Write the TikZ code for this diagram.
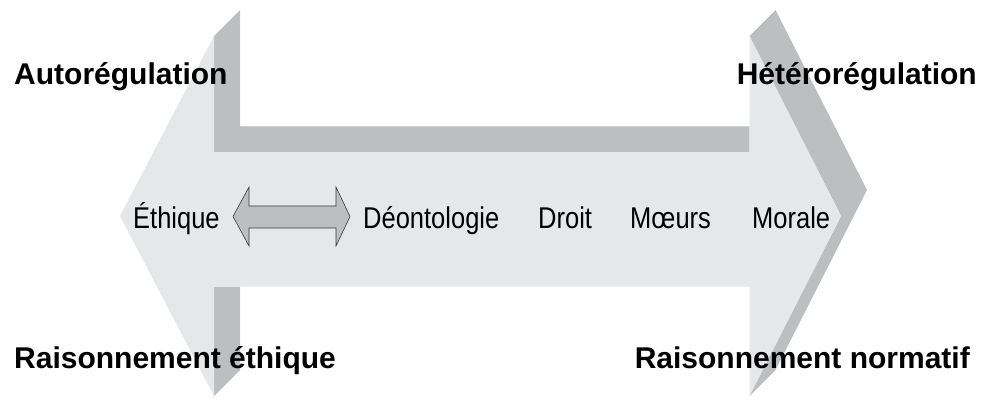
\documentclass[tikz,border=0pt]{standalone}
\usepackage{fontspec}
\setmainfont{Liberation Sans}
\newfontfamily\narrowfont[FakeStretch=0.85]{Liberation Sans}
\definecolor{facegray}{HTML}{E6E7E8}
\definecolor{sidegray}{HTML}{BCBEC0}
\definecolor{edgegray}{HTML}{3A3A3A}
\tikzset{
  frontface/.style={fill=facegray},
  sideface/.style={fill=sidegray},
  smallarrow/.style={fill=sidegray, draw=edgegray, line width=0.6pt, line join=miter},
  heading/.style={inner sep=0pt, text=black, font=\fontsize{30}{36}\selectfont\bfseries},
  term/.style={inner sep=0pt, text=black, font=\narrowfont\fontsize{30}{36}\selectfont},
}
\begin{document}
\begin{tikzpicture}[x=1pt, y=-1pt]
\useasboundingbox (0,0) rectangle (990,398);

% extruded sides of the big double arrow (seen behind the front face)
\fill[sideface] (214,36) -- (240,10) -- (240,126.5) -- (749.5,126.5)
  -- (749.5,152.5) -- (214,152.5) -- cycle;
\fill[sideface] (749.5,36) -- (775.5,10) -- (867,190) -- (775.5,370)
  -- (749.5,396) -- (841,216) -- cycle;
\fill[sideface] (214,286.7) -- (240,286.7) -- (240,370) -- (214,396) -- cycle;

% front face of the big double arrow
\fill[frontface] (120,216) -- (214,36) -- (214,152.5) -- (749.5,152.5)
  -- (749.5,36) -- (841,216) -- (749.5,396) -- (749.5,286.7)
  -- (214,286.7) -- (214,396) -- cycle;

% corner headings
\node[heading, anchor=base west] (auto) at (14,85) {Autorégulation};
\node[heading, anchor=base east] (hetero) at (977,85) {Hétérorégulation};
\node[heading, anchor=base west] (rethique) at (14,368) {Raisonnement éthique};
\node[heading, anchor=base east] (rnormatif) at (970,368) {Raisonnement normatif};

% terms along the arrow
\node[term, anchor=base west] (ethique) at (133,228) {Éthique};
\node[term, anchor=base west] (deonto) at (363,228) {Déontologie};
\node[term, anchor=base west] (droit) at (538,228) {Droit};
\node[term, anchor=base west] (moeurs) at (630,228) {Mœurs};
\node[term, anchor=base west] (morale) at (752,228) {Morale};

% small double arrow between Éthique and Déontologie
\draw[smallarrow] (233,216.5) -- (249,187) -- (249,206) -- (336,206)
  -- (336,187) -- (350,216.5) -- (336,246) -- (336,228) -- (249,228)
  -- (249,246) -- cycle;
\end{tikzpicture}
\end{document}
